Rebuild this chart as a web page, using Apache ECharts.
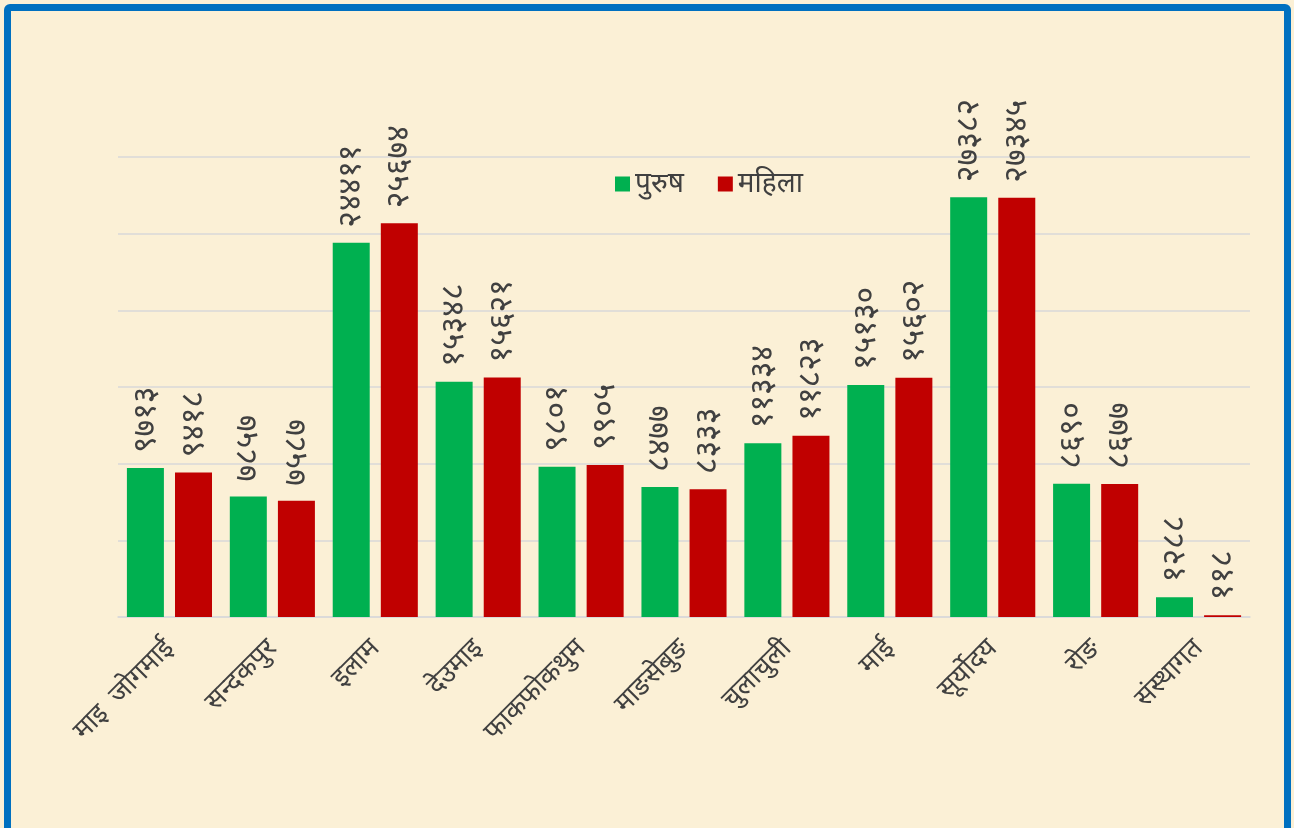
<!DOCTYPE html>
<html>
<head>
<meta charset="utf-8">
<script src="https://cdn.jsdelivr.net/npm/echarts@6/dist/echarts.min.js"></script>
<style>
  html, body { margin: 0; padding: 0; width: 1294px; height: 828px; overflow: hidden; background: #FBF0D6; }
  #chart { position: absolute; left: 0; top: 0; width: 1294px; height: 828px; }
  #frame { position: absolute; left: 4px; top: 4px; width: 1273px; height: 840px; border: 7px solid #0070C0; border-radius: 6px; pointer-events: none; }
</style>
</head>
<body>
<div id="chart"></div>
<div id="frame"></div>
<script>
// Population by local unit, male vs female
const categories = ['माइ  जोगमाई', 'सन्दकपुर', 'इलाम', 'देउमाइ', 'फाकफोकथुम', 'माङसेबुङ', 'चुलाचुली', 'माई', 'सूर्योदय', 'रोङ', 'संस्थागत'];
const male   = [9713, 7857, 24411, 15348, 9801, 8477, 11334, 15130, 27382, 8690, 1288];
const female = [9418, 7587, 25674, 15621, 9905, 8333, 11823, 15602, 27345, 8677, 118];
const seriesNames = ['पुरुष', 'महिला'];

const devDigits = '०१२३४५६७८९';
const toDevanagari = n => String(n).replace(/[0-9]/g, d => devDigits[+d]);

const font = '"Noto Sans", "Noto Sans Devanagari", sans-serif';
const textColor = '#404040';

const labelOpt = {
  show: true,
  position: 'top',
  rotate: 90,
  align: 'left',
  verticalAlign: 'middle',
  distance: 15,
  color: textColor,
  fontSize: 32,
  fontFamily: font,
  formatter: p => toDevanagari(p.value)
};

const chart = echarts.init(document.getElementById('chart'), null, { renderer: 'canvas' });
chart.setOption({
  backgroundColor: 'transparent',
  animation: false,
  legend: {
    data: seriesNames,
    left: 610,
    top: 165,
    itemWidth: 15,
    itemHeight: 15,
    itemGap: 34,
    icon: 'rect',
    textStyle: { color: textColor, fontSize: 28, fontFamily: font }
  },
  grid: { left: 118, right: 44, top: 157, bottom: 211, containLabel: false },
  xAxis: {
    type: 'category',
    data: categories,
    axisLine: { lineStyle: { color: '#D9D9D9', width: 1.5 } },
    axisTick: { show: false },
    axisLabel: {
      rotate: 45,
      interval: 0,
      margin: 27,
      color: textColor,
      fontSize: 27,
      fontFamily: font
    }
  },
  yAxis: {
    type: 'value',
    min: 0,
    max: 30000,
    interval: 5000,
    axisLine: { show: false },
    axisTick: { show: false },
    axisLabel: { show: false },
    splitLine: { lineStyle: { color: '#D9D9D9', width: 1.5 } }
  },
  series: [
    {
      name: seriesNames[0],
      type: 'bar',
      data: male,
      barWidth: 37,
      barGap: '30%',
      itemStyle: { color: '#00B050' },
      label: labelOpt
    },
    {
      name: seriesNames[1],
      type: 'bar',
      data: female,
      barWidth: 37,
      barGap: '30%',
      itemStyle: { color: '#C00000' },
      label: labelOpt
    }
  ]
});
</script>
</body>
</html>
